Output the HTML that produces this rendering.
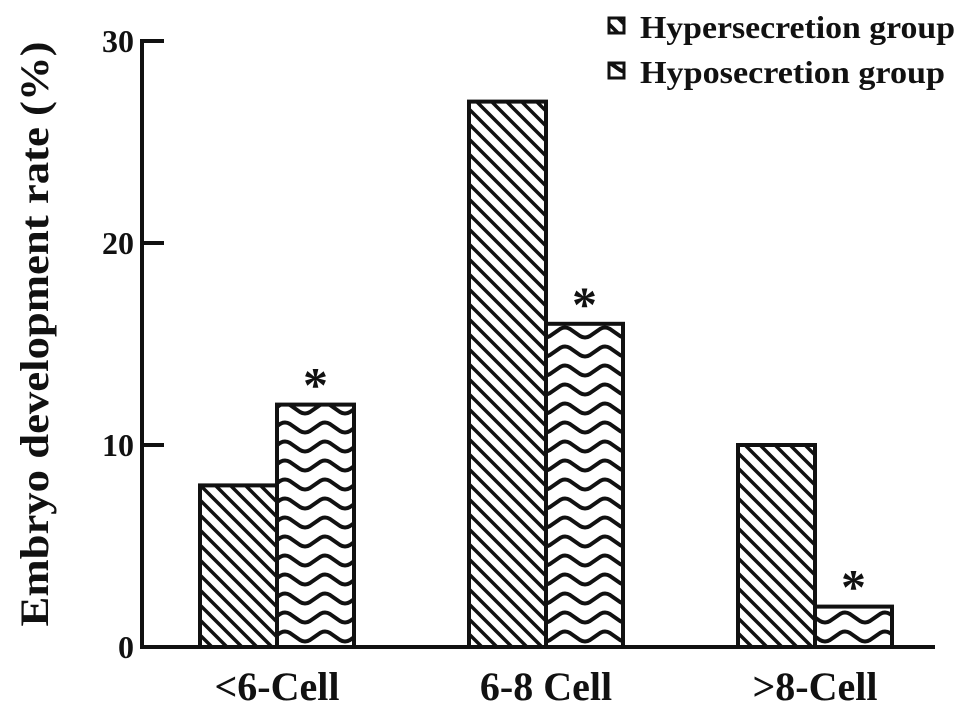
<!DOCTYPE html>
<html><head><meta charset="utf-8"><style>
body{margin:0;background:#fff}
svg text{font-family:"Liberation Serif",serif;font-weight:bold;fill:#111}
</style></head><body>
<svg id="chart" width="969" height="717" xmlns="http://www.w3.org/2000/svg">
<defs>
<pattern id="diag" patternUnits="userSpaceOnUse" width="15" height="15">
<rect width="15" height="15" fill="#fff"/>
<path d="M-4,-4 L19,19 M-4,11 L4,19 M11,-4 L19,4" stroke="#111" stroke-width="3.5"/>
</pattern>
<pattern id="wave" patternUnits="userSpaceOnUse" width="40" height="19">
<rect width="40" height="19" fill="#fff"/>
<path d="M-10,13 L0,6 Q5,3 10,6 L20,13 Q25,16 30,13 L40,6 Q45,3 50,6" stroke="#111" stroke-width="4" fill="none"/>
</pattern>
</defs>
<g id="plot"></g>
<text x="0" y="0" transform="translate(48,334) rotate(-90)" text-anchor="middle" font-size="40" textLength="585" lengthAdjust="spacingAndGlyphs">Embryo development rate (%)</text>
<g>
<rect x="609" y="18" width="15" height="15" fill="url(#diag)" stroke="#111" stroke-width="3"/>
<text x="640" y="38" font-size="32" textLength="315" lengthAdjust="spacingAndGlyphs">Hypersecretion group</text>
<rect x="609" y="63" width="15" height="15" fill="url(#wave)" stroke="#111" stroke-width="3"/>
<text x="640" y="83" font-size="32" textLength="305" lengthAdjust="spacingAndGlyphs">Hyposecretion group</text>
</g>
</svg>
<script>
const categories=["<6-Cell","6-8 Cell",">8-Cell"];
const hyper=[8,27,10];
const hypo=[12,16,2];
const sig=[true,true,true];
const yTicks=[0,10,20,30];
const ns="http://www.w3.org/2000/svg";
const g=document.getElementById("plot");
const x0=142,base=647,unit=20.2,axRight=935;
const y=v=>base-v*unit;
const groupX=i=>200+i*269;
const bw=77;
function mk(t,a){const e=document.createElementNS(ns,t);for(const k in a)e.setAttribute(k,a[k]);g.appendChild(e);return e;}
categories.forEach((c,i)=>{
  const gx=groupX(i);
  let r=mk("rect",{x:gx,y:y(hyper[i]),width:bw,height:base-y(hyper[i]),fill:"url(#diag)",stroke:"#111","stroke-width":4});
  
  
  r=mk("rect",{x:gx+bw,y:y(hypo[i]),width:bw,height:base-y(hypo[i]),fill:"url(#wave)",stroke:"#111","stroke-width":4});
  
  
  if(sig[i]){const s=mk("text",{x:gx+bw*1.5,y:y(hypo[i])-3,"text-anchor":"middle","font-size":50});s.textContent="*";
  
  }
  const t=mk("text",{x:gx+bw,y:700,"text-anchor":"middle","font-size":40});t.textContent=c;
  
  
});
yTicks.forEach(v=>{
  const l=mk("line",{x1:x0,x2:x0+22,y1:y(v),y2:y(v),stroke:"#111","stroke-width":4});
  
  
  const t=mk("text",{x:x0-8,y:y(v)+11,"text-anchor":"end","font-size":32});t.textContent=v;
  
  
});
let a=mk("line",{x1:x0,x2:x0,y1:y(30)-2,y2:base+2,stroke:"#111","stroke-width":4});


a=mk("line",{x1:x0-2,x2:axRight,y1:base,y2:base,stroke:"#111","stroke-width":4});


</script>
</body></html>
